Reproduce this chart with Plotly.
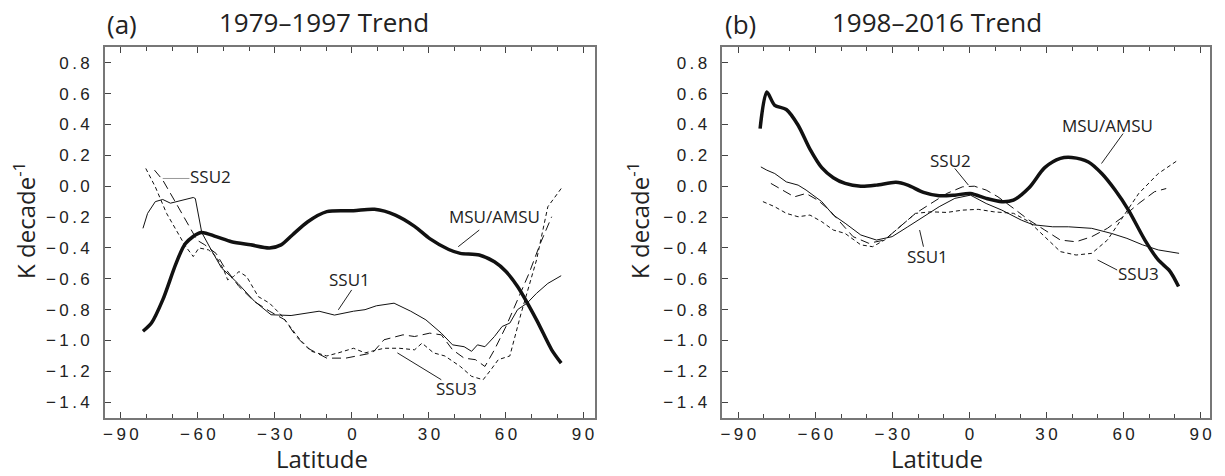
import plotly.graph_objects as go

# ---------------- data: panel (a) 1979-1997 ----------------
a_msu_lat = [-81.4, -78.1, -73.7, -68.5, -64.8, -58.8, -52.9, -46.9, -39.5, -32.1, -27.6, -23.2, -17.2, -9.8,
             0.6, 8.8, 16.9, 24.4, 30.3, 37.7, 42.2, 49.6, 55.5, 60.0, 64.5, 71.9, 77.8, 81.5]
a_msu_val = [-0.94, -0.887, -0.737, -0.50, -0.37, -0.30, -0.327, -0.36, -0.38, -0.40, -0.38, -0.316, -0.23, -0.165,
             -0.159, -0.15, -0.187, -0.26, -0.34, -0.41, -0.435, -0.446, -0.49, -0.553, -0.65, -0.866, -1.06, -1.146]

a_ssu1_lat = [-81.4, -79.6, -76.6, -73.7, -70.7, -66.2, -61.8, -61.0, -58.5, -54.8, -50.8, -47.5, -44.4, -38.0, -31.5,
              -23.7, -17.2, -12.8, -6.8, 0.6, 5.1, 9.5, 16.4, 22.9, 28.8, 34.8, 39.2, 43.7, 46.6, 48.9, 51.8, 55.5,
              58.5, 61.5, 64.5, 68.2, 71.9, 76.3, 81.5]
a_ssu1_val = [-0.273, -0.176, -0.10, -0.086, -0.11, -0.09, -0.073, -0.08, -0.30, -0.413, -0.53, -0.58, -0.63, -0.745,
              -0.833, -0.838, -0.823, -0.81, -0.835, -0.81, -0.80, -0.775, -0.758, -0.81, -0.866, -0.952, -1.028,
              -1.04, -1.07, -1.028, -1.04, -0.974, -0.909, -0.887, -0.80, -0.758, -0.694, -0.63, -0.58]

a_ssu2_lat = [-76.9, -73.7, -69.2, -64.8, -60.3, -57.3, -52.9, -49.9, -44.0, -38.0, -32.1, -26.1, -21.7, -17.2, -9.8,
              -2.4, 2.1, 8.0, 12.5, 19.9, 24.4, 30.3, 34.8, 39.2, 43.7, 48.1, 51.8, 55.5, 60.0, 64.5, 69.0, 73.4, 77.8]
a_ssu2_val = [0.104, 0.04, -0.09, -0.22, -0.35, -0.38, -0.436, -0.52, -0.65, -0.747, -0.81, -0.866, -0.974, -1.05,
              -1.114, -1.114, -1.10, -1.08, -0.995, -0.963, -0.974, -0.952, -0.963, -1.06, -1.114, -1.124, -1.168,
              -1.06, -0.909, -0.737, -0.564, -0.37, -0.198]

a_ssu3_lat = [-80.3, -76.6, -72.2, -67.7, -64.8, -61.8, -59.6, -55.8, -52.9, -49.9, -48.4, -46.2, -44.0, -41.0, -36.5,
              -32.1, -27.6, -23.2, -20.2, -15.7, -9.8, -5.3, 0.6, 5.1, 12.5, 18.4, 24.4, 27.3, 31.8, 36.2, 42.2, 46.6,
              51.1, 54.1, 57.0, 61.5, 65.9, 71.9, 76.3, 81.5]
a_ssu3_val = [0.115, -0.004, -0.176, -0.306, -0.39, -0.456, -0.40, -0.413, -0.456, -0.543, -0.607, -0.586, -0.553,
              -0.586, -0.715, -0.758, -0.834, -0.93, -0.995, -1.07, -1.10, -1.08, -1.05, -1.08, -1.05, -1.05, -1.06,
              -1.017, -1.08, -1.10, -1.168, -1.232, -1.254, -1.19, -1.124, -1.10, -0.823, -0.478, -0.133, -0.015]

# ---------------- data: panel (b) 1998-2016 ----------------
b_msu_lat = [-81.5, -78.9, -75.8, -71.3, -66.7, -62.1, -57.5, -53.0, -48.4, -42.3, -36.2, -28.6, -24.0, -17.9, -11.8,
             -5.7, 0.4, 6.5, 12.6, 17.1, 23.2, 29.3, 35.4, 39.8, 46.3, 51.5, 56.7, 61.9, 68.3, 73.5, 78.0, 81.4]
b_msu_val = [0.373, 0.61, 0.524, 0.497, 0.395, 0.24, 0.12, 0.055, 0.018, 0.0, 0.007, 0.025, 0.007, -0.04, -0.062,
             -0.058, -0.047, -0.079, -0.10, -0.09, -0.01, 0.12, 0.18, 0.186, 0.157, 0.082, -0.025, -0.155, -0.349,
             -0.478, -0.55, -0.65]

b_ssu1_lat = [-81.2, -78.9, -75.8, -71.3, -66.7, -63.6, -57.5, -53.0, -48.4, -42.3, -36.2, -30.1, -24.0, -17.9, -11.8,
              -5.7, 0.4, 6.5, 12.6, 20.2, 24.8, 32.4, 38.5, 47.6, 55.3, 61.3, 67.4, 73.5, 78.1, 81.6]
b_ssu1_val = [0.125, 0.104, 0.082, 0.028, 0.007, -0.025, -0.10, -0.187, -0.24, -0.316, -0.349, -0.327, -0.263,
              -0.198, -0.133, -0.079, -0.058, -0.112, -0.155, -0.22, -0.25, -0.263, -0.263, -0.273, -0.306, -0.338,
              -0.38, -0.413, -0.424, -0.435]

b_ssu2_lat = [-77.3, -72.8, -68.2, -63.6, -59.1, -54.5, -49.9, -45.3, -39.2, -33.1, -27.1, -21.0, -15.0, -8.8, -2.7,
              1.9, 6.5, 11.1, 17.2, 23.2, 29.3, 35.4, 41.5, 47.6, 53.7, 59.8, 65.9, 72.0, 76.6]
b_ssu2_val = [0.018, -0.025, -0.069, -0.047, -0.09, -0.155, -0.24, -0.327, -0.37, -0.349, -0.263, -0.176, -0.112,
              -0.047, -0.004, 0.0, -0.025, -0.069, -0.144, -0.22, -0.284, -0.349, -0.36, -0.327, -0.273, -0.198,
              -0.112, -0.036, -0.015]

b_ssu3_lat = [-80.4, -75.8, -71.3, -66.7, -62.1, -57.5, -53.0, -48.4, -42.3, -37.7, -33.1, -27.1, -21.0, -15.0, -8.8,
              -2.7, 3.4, 9.5, 17.2, 23.2, 29.3, 35.4, 41.5, 47.6, 53.7, 59.8, 65.9, 73.5, 81.1]
b_ssu3_val = [-0.10, -0.133, -0.176, -0.198, -0.187, -0.23, -0.284, -0.306, -0.38, -0.392, -0.349, -0.263, -0.176,
              -0.166, -0.17, -0.155, -0.15, -0.166, -0.176, -0.23, -0.327, -0.424, -0.446, -0.435, -0.349, -0.198,
              -0.047, 0.082, 0.168]

x_ticks = [-90, -60, -30, 0, 30, 60, 90]
y_ticks = [-1.4, -1.2, -1.0, -0.8, -0.6, -0.4, -0.2, 0.0, 0.2, 0.4, 0.6, 0.8]
panel_titles = ["1979\u20131997 Trend", "1998\u20132016 Trend"]
panel_tags = ["(a)", "(b)"]


def spaced(s):
    # tick labels in the original are set with wide letter spacing
    return "\u2009".join(s.replace("-", "\u2212"))


x_ticktext = [spaced("%d" % v) for v in x_ticks]
y_ticktext = [spaced("%.1f" % v) for v in y_ticks]

W, H = 1225, 476
fig = go.Figure()


def add_panel(suffix, msu, s1, s2, s3):
    xa, ya = "x" + suffix, "y" + suffix
    fig.add_trace(go.Scatter(x=s1[0], y=s1[1], mode="lines", xaxis=xa, yaxis=ya,
                             line=dict(color="#111", width=1)))
    fig.add_trace(go.Scatter(x=s2[0], y=s2[1], mode="lines", xaxis=xa, yaxis=ya,
                             line=dict(color="#111", width=1, dash="9px,5px")))
    fig.add_trace(go.Scatter(x=s3[0], y=s3[1], mode="lines", xaxis=xa, yaxis=ya,
                             line=dict(color="#111", width=1, dash="4px,3px")))
    fig.add_trace(go.Scatter(x=msu[0], y=msu[1], mode="lines", xaxis=xa, yaxis=ya,
                             line=dict(color="#111", width=3.5, shape="spline", smoothing=0.8)))


add_panel("", (a_msu_lat, a_msu_val), (a_ssu1_lat, a_ssu1_val), (a_ssu2_lat, a_ssu2_val), (a_ssu3_lat, a_ssu3_val))
add_panel("2", (b_msu_lat, b_msu_val), (b_ssu1_lat, b_ssu1_val), (b_ssu2_lat, b_ssu2_val), (b_ssu3_lat, b_ssu3_val))

ydom = [1 - 417.7 / H, 1 - 47.3 / H]
axis_line = "#777"
tick_font = dict(family="Liberation Sans, Arial", size=17, color="#222")


def xaxis(dom, rng, anchor):
    return dict(domain=dom, range=rng, anchor=anchor, tickvals=x_ticks, ticktext=x_ticktext,
                ticks="inside", ticklen=6,
                tickcolor="#444", tickwidth=1.2, showline=True, linecolor=axis_line, linewidth=1.6,
                mirror="ticks", showgrid=False, zeroline=False, tickfont=tick_font,
                minor=dict(dtick=10, tick0=0, ticks="inside", ticklen=4, tickcolor="#444", tickwidth=1.2))


def yaxis(anchor):
    return dict(domain=ydom, range=[-1.5, 0.9], anchor=anchor, tickvals=y_ticks, ticktext=y_ticktext,
                ticks="inside", ticklen=6, tickcolor="#444", tickwidth=1.2, showline=True,
                linecolor=axis_line, linewidth=1.6, mirror=True, showgrid=False, zeroline=False,
                tickfont=tick_font, ticklabelstandoff=10)


fig.update_layout(
    width=W, height=H, margin=dict(l=0, r=0, t=0, b=0),
    paper_bgcolor="white", plot_bgcolor="white", showlegend=False,
    xaxis=xaxis([103.3 / W, 594.5 / W], [-96.2, 94.5], "y"),
    yaxis=yaxis("x"),
    xaxis2=xaxis([722.7 / W, 1211.6 / W], [-96.2, 93.5], "y2"),
    yaxis2=yaxis("x2"),
)

txt_font = dict(family="Open Sans", size=26, color="#222")
xlab_font = dict(family="Open Sans", size=24, color="#222")
ylab_font = dict(family="Open Sans", size=24, color="#222")
lab_font = dict(family="Open Sans", size=17, color="#222")
anns = []
# panel tags and titles
for tag_x, title_x, tag, title in [(103, 323, panel_tags[0], panel_titles[0]),
                                   (723, 938, panel_tags[1], panel_titles[1])]:
    anns.append(dict(xref="paper", yref="paper", x=tag_x / W, y=1 - 24 / H, text=tag, showarrow=False,
                     xanchor="left", yanchor="middle", font=txt_font))
    anns.append(dict(xref="paper", yref="paper", x=title_x / W, y=1 - 22 / H, text=title, showarrow=False,
                     xanchor="center", yanchor="middle", font=txt_font))
# axis titles
for xt, yt in [(321, 22), (938, 638)]:
    anns.append(dict(xref="paper", yref="paper", x=xt / W, y=0, text="Latitude", showarrow=False,
                     xanchor="center", yanchor="bottom", borderpad=0, font=xlab_font))
    anns.append(dict(xref="paper", yref="paper", x=yt / W, y=1 - 220 / H, text="K decade<sup>-1</sup>",
                     showarrow=False, textangle=-90, xanchor="center", yanchor="middle", font=ylab_font))

# series labels (data coordinates)
labels_a = [("SSU2", -55.1, 0.061), ("SSU1", -0.9, -0.607), ("MSU/AMSU", 55.5, -0.198), ("SSU3", 40.7, -1.308)]
labels_b = [("SSU2", -7.2, 0.169), ("SSU1", -16.4, -0.456), ("MSU/AMSU", 53.7, 0.395), ("SSU3", 65.9, -0.564)]
for (lbls, xr, yr) in [(labels_a, "x", "y"), (labels_b, "x2", "y2")]:
    for t, lx, ly in lbls:
        anns.append(dict(xref=xr, yref=yr, x=lx, y=ly, text=t, showarrow=False, xanchor="center",
                         yanchor="middle", font=lab_font))
fig.update_layout(annotations=anns)

# leader lines
leaders_a = [(-73.7, 0.05, -63.3, 0.05, "#999"), (-0.1, -0.672, -5.3, -0.801, "#222"),
             (49.6, -0.284, 41.4, -0.392, "#222"), (34.8, -1.254, 17.7, -1.08, "#222")]
leaders_b = [(-5.7, 0.115, -0.4, 0.007, "#222"), (-17.9, -0.392, -19.4, -0.284, "#222"),
             (59.8, 0.341, 51.4, 0.147, "#222"), (57.5, -0.543, 49.9, -0.478, "#222")]
for (lds, xr, yr) in [(leaders_a, "x", "y"), (leaders_b, "x2", "y2")]:
    for x0, y0, x1, y1, c in lds:
        fig.add_shape(type="line", xref=xr, yref=yr, x0=x0, y0=y0, x1=x1, y1=y1,
                      line=dict(color=c, width=1))

fig.write_html("out.html")
